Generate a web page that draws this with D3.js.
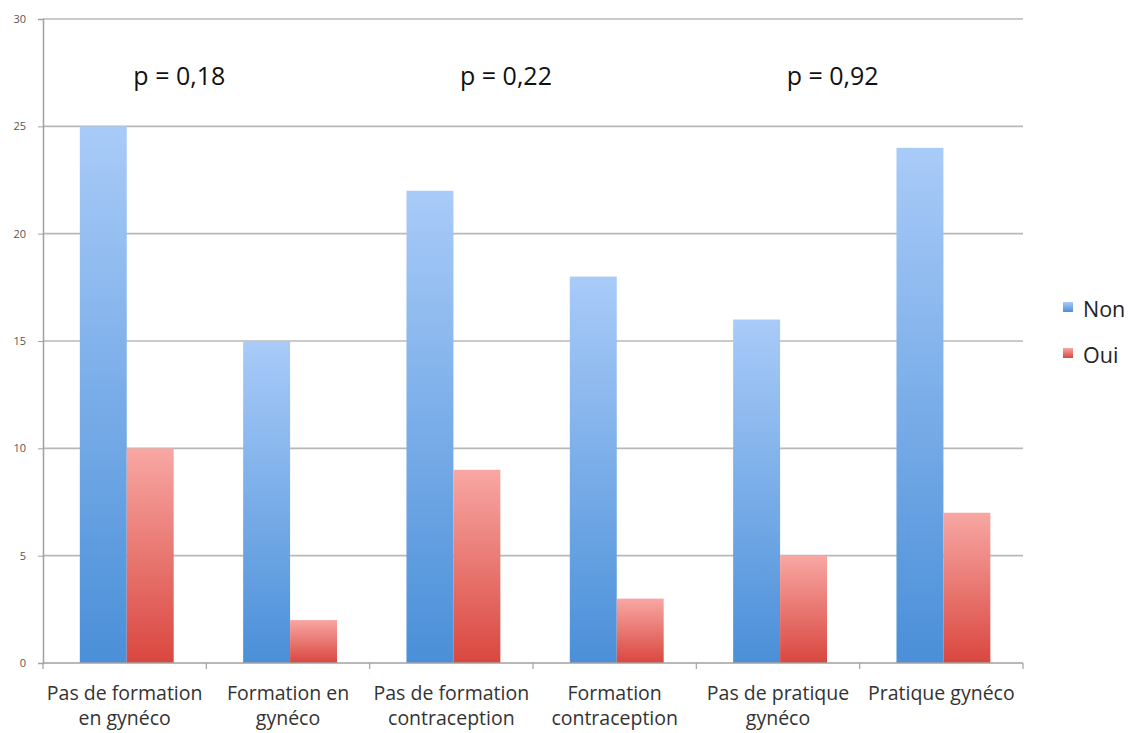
<!DOCTYPE html>
<html><head><meta charset="utf-8">
<script src="https://cdn.jsdelivr.net/npm/d3@7"></script>
<style>body{margin:0;background:#fff;} text{font-family:"Open Sans",sans-serif;}</style>
</head><body>
<svg id="c" width="1133" height="733"></svg>
<script>
const categories = [["Pas de formation","en gynéco"],["Formation en","gynéco"],["Pas de formation","contraception"],["Formation","contraception"],["Pas de pratique","gynéco"],["Pratique gynéco"]];
const seriesNames = ["Non","Oui"];
const nonValues = [25,15,22,18,16,24];
const ouiValues = [10,2,9,3,5,7];
const yTicks = [0,5,10,15,20,25,30];
const pLabels = ["p = 0,18","p = 0,22","p = 0,92"];

(function(){
const svg = d3.select("#c");
const mLeft=43, mRight=1023, mTop=19, mBottom=663;
const x = d3.scaleBand().domain(d3.range(categories.length)).range([mLeft,mRight]);
const xs = d3.scaleBand().domain(seriesNames).range([0,x.bandwidth()]).paddingInner(0).paddingOuter(0.74).align(0.53);
const y = d3.scaleLinear().domain([0,30]).range([mBottom,mTop]);

const defs = svg.append("defs");
function grad(id,c1,c2){const g=defs.append("linearGradient").attr("id",id).attr("x1",0).attr("y1",0).attr("x2",0).attr("y2",1);
 g.append("stop").attr("offset","0%").attr("stop-color",c1);g.append("stop").attr("offset","100%").attr("stop-color",c2);}
grad("gNon","#a9cbf8","#4a8fd8");
grad("gOui","#f8a7a3","#d9473f");
const colors={Non:"url(#gNon)",Oui:"url(#gOui)"};

svg.append("g").selectAll("line").data(yTicks.filter(d=>d>0)).join("line")
 .attr("x1",mLeft).attr("x2",mRight).attr("y1",d=>y(d)).attr("y2",d=>y(d))
 .attr("stroke","#b8b8b8").attr("stroke-width",1.6);

const data = categories.map((c,i)=>({i, Non:nonValues[i], Oui:ouiValues[i]}));
const gb = svg.append("g");
data.forEach(d=>{
 seriesNames.forEach(s=>{
  gb.append("rect").attr("x",x(d.i)+xs(s)).attr("width",xs.bandwidth())
   .attr("y",y(d[s])).attr("height",mBottom-y(d[s])).attr("fill",colors[s]);
 });
});

const yAxis = svg.append("g").attr("transform",`translate(${mLeft},0)`)
 .call(d3.axisLeft(y).tickValues(yTicks).tickSize(5).tickPadding(12));
yAxis.select(".domain").attr("stroke","#a0a0a0").attr("stroke-width",1.5);
yAxis.selectAll(".tick line").attr("stroke","#a0a0a0");
yAxis.selectAll("text").attr("font-size",11).attr("fill","#555").attr("font-family","Open Sans");

const xa = svg.append("g").attr("transform",`translate(0,${mBottom})`);
xa.append("line").attr("x1",mLeft).attr("x2",mRight).attr("stroke","#a0a0a0").attr("stroke-width",1.5);
xa.selectAll(".tk").data(d3.range(categories.length+1)).join("line")
 .attr("x1",i=>mLeft+i*x.step()).attr("x2",i=>mLeft+i*x.step()).attr("y1",0).attr("y2",6)
 .attr("stroke","#a0a0a0").attr("stroke-width",1.2);
const lab = xa.selectAll(".lab").data(categories).join("text")
 .attr("text-anchor","middle").attr("font-size",19.5).attr("fill","#333")
 .attr("transform",(d,i)=>`translate(${x(i)+x.bandwidth()/2},0)`);
lab.each(function(d){const t=d3.select(this);d.forEach((l,j)=>t.append("tspan").attr("x",0).attr("y",37+j*25).text(l));});

svg.selectAll(".p").data(pLabels).join("text")
 .attr("x",(d,i)=>x(i*2+1)-27).attr("y",85).attr("text-anchor","middle")
 .attr("font-size",25).attr("fill","#111").text(d=>d);

const lg = svg.append("g").attr("transform","translate(1063,302)");
seriesNames.forEach((s,i)=>{
 lg.append("rect").attr("x",0).attr("y",i*46).attr("width",10).attr("height",10).attr("fill",colors[s]);
 lg.append("text").attr("x",20).attr("y",i*46+15).attr("font-size",21.5).attr("fill","#222").text(s);
});
})();
</script>
</body></html>
